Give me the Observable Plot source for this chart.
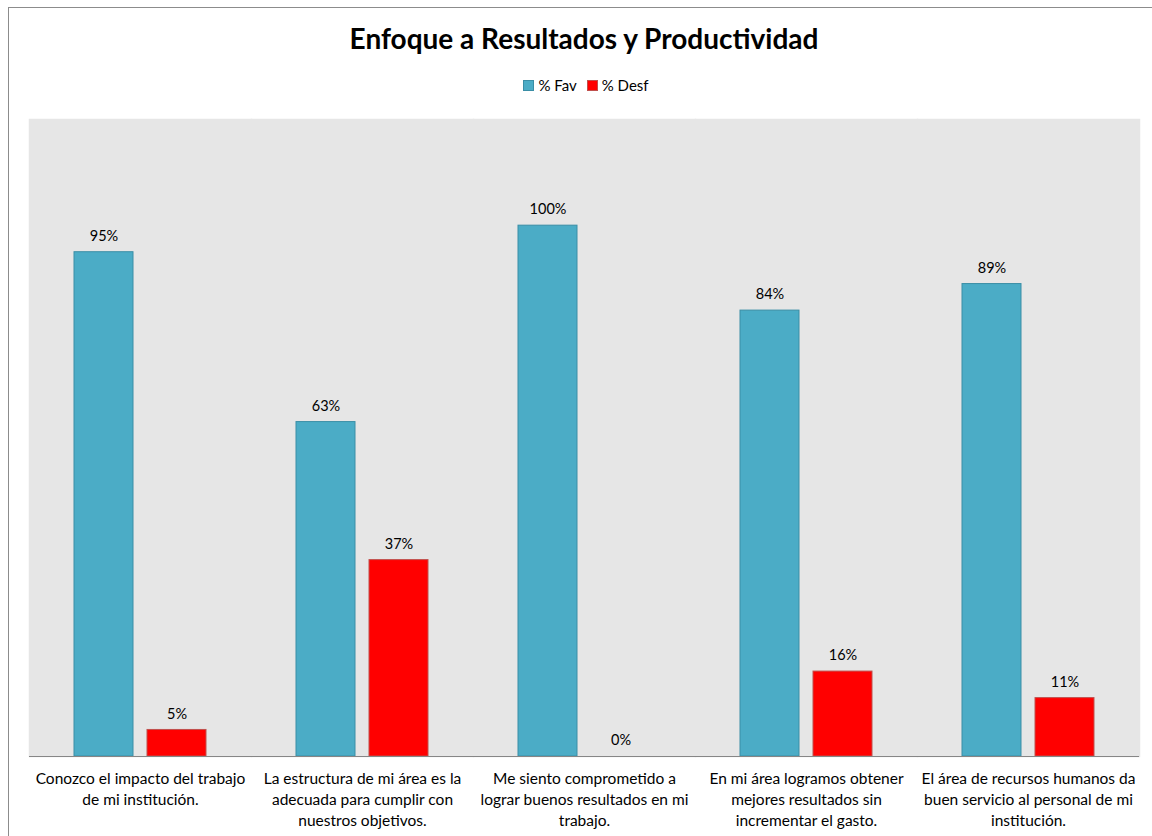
<!DOCTYPE html>
<html>
<head>
<meta charset="utf-8">
<script src="https://cdn.jsdelivr.net/npm/d3@7"></script>
<script src="https://cdn.jsdelivr.net/npm/@observablehq/plot@0.6"></script>
<style>
  body { margin: 0; background: #fff; font-family: Lato, "Open Sans", sans-serif; }
  #frame { position: absolute; left: 8px; top: 7px; width: 1160px; height: 850px; border: 1px solid #8c8c8c; box-sizing: border-box; }
  #title { position: absolute; left: 0; width: 1168px; top: 21px; text-align: center; font-size: 28px; font-weight: bold; color: #000; }
  #legend { position: absolute; left: 0; width: 1172px; top: 76px; text-align: center; font-size: 15px; color: #000; }
  #legend span.sw { display: inline-block; width: 9px; height: 9px; margin-right: 4px; vertical-align: 0px; border: 1px solid; }
  #legend span.item { margin: 0 5px; }
  #chart { position: absolute; left: 0; top: 100px; }
</style>
</head>
<body>
<div id="frame"></div>
<div id="title">Enfoque a Resultados y Productividad</div>
<div id="legend"></div>
<div id="chart"></div>
<script>
const categories = [
  "Conozco el impacto del trabajo de mi institución.",
  "La estructura de mi área es la adecuada para cumplir con nuestros objetivos.",
  "Me siento comprometido a lograr buenos resultados en mi trabajo.",
  "En mi área logramos obtener mejores resultados sin incrementar el gasto.",
  "El área de recursos humanos da buen servicio al personal de mi institución."
];
const categoryLabels = [
  "Conozco el impacto del trabajo\nde mi institución.",
  "La estructura de mi área es la\nadecuada para cumplir con\nnuestros objetivos.",
  "Me siento comprometido a\nlograr buenos resultados en mi\ntrabajo.",
  "En mi área logramos obtener\nmejores resultados sin\nincrementar el gasto.",
  "El área de recursos humanos da\nbuen servicio al personal de mi\ninstitución."
];
const seriesNames = ["% Fav", "% Desf"];
const favValues = [95, 63, 100, 84, 89];
const desfValues = [5, 37, 0, 16, 11];
const seriesFill = ["#4bacc6", "#ff0000"];
const seriesStroke = ["#3a8ea6", "#c0504d"];

const data = [];
categories.forEach((c, i) => {
  data.push({category: c, series: seriesNames[0], value: favValues[i]});
  data.push({category: c, series: seriesNames[1], value: desfValues[i]});
});

// legend
const legend = document.getElementById("legend");
seriesNames.forEach((s, i) => {
  const item = document.createElement("span");
  item.className = "item";
  item.innerHTML = `<span class="sw" style="background:${seriesFill[i]};border-color:${seriesStroke[i]}"></span>${s}`;
  legend.appendChild(item);
});

const fontFamily = "Lato, 'Open Sans', sans-serif";
const plot = Plot.plot({
  width: 1152,
  height: 736,
  marginTop: 19,
  marginBottom: 80,
  marginLeft: 27,
  marginRight: 11,
  style: {fontFamily, fontSize: "14px", color: "#000", background: "transparent"},
  fx: {domain: categories, paddingInner: 0, paddingOuter: 0, label: null, axis: null},
  x: {domain: seriesNames, paddingInner: 14 / 74, paddingOuter: 0.6, axis: null},
  y: {domain: [0, 120], axis: null},
  color: {domain: seriesNames, range: seriesFill},
  marks: [
    Plot.frame({fill: "#e6e6e6", stroke: "#e6e6e6", strokeWidth: 1.5}),
    Plot.barY(data, {
      fx: "category", x: "series", y: "value",
      fill: "series",
      stroke: d => seriesStroke[seriesNames.indexOf(d.series)],
      strokeWidth: 1
    }),
    Plot.ruleY([0], {stroke: "#868686", strokeWidth: 1}),
    Plot.text(data, {
      fx: "category", x: "series", y: "value",
      text: d => d.value + "%",
      dy: -16, fontSize: 14.5, fill: "#000"
    }),
    Plot.axisFx({
      anchor: "bottom",
      tickSize: 0,
      tickPadding: 12,
      fontSize: 15.5,
      lineHeight: 1.38,
      label: null,
      tickFormat: d => categoryLabels[categories.indexOf(d)],
      lineAnchor: "top"
    })
  ]
});
document.getElementById("chart").appendChild(plot);
</script>
</body>
</html>
